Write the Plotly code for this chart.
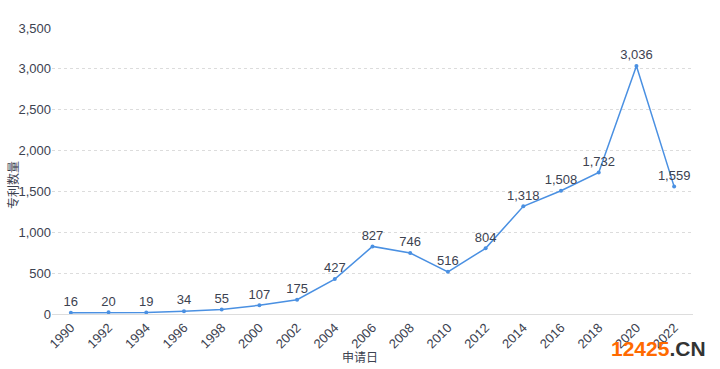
import plotly.graph_objects as go

years = ["1990", "1992", "1994", "1996", "1998", "2000", "2002", "2004", "2006",
         "2008", "2010", "2012", "2014", "2016", "2018", "2020", "2022"]
counts = [16, 20, 19, 34, 55, 107, 175, 427, 827, 746, 516, 804, 1318, 1508, 1732, 3036, 1559]
y_ticks = [0, 500, 1000, 1500, 2000, 2500, 3000, 3500]

W, H = 720, 369
L, R, T, B = 52, 27, 28, 55
PW, PH = W - L - R, H - T - B
TXT = "#3c4250"

fig = go.Figure(go.Scatter(
    x=years, y=counts, mode="lines+markers+text",
    line=dict(color="#4A90E2", width=1.5),
    marker=dict(size=4, color="#4A90E2"),
    text=[f"{v:,}" for v in counts], textposition="top center",
    textfont=dict(size=13, color=TXT, family="Liberation Sans, Arial"),
    cliponaxis=False, hoverinfo="skip",
))

fig.update_layout(
    width=W, height=H, margin=dict(l=L, r=R, t=T, b=B, autoexpand=False),
    paper_bgcolor="white", plot_bgcolor="white", showlegend=False,
    font=dict(family="Liberation Sans, Noto Sans CJK SC, Arial", color=TXT, size=13),
)
fig.update_xaxes(
    type="category", range=[-0.5, len(years) - 0.5], tickangle=-45,
    showgrid=False, showline=True, linecolor="#dddddd", linewidth=1,
    ticks="", automargin=False, tickfont=dict(size=13, color=TXT),
)
fig.update_yaxes(
    range=[0, 3500], tickvals=y_ticks, tickformat=",", showline=False,
    gridcolor="#dcdcdc", griddash="dot", gridwidth=1, zeroline=False,
    ticks="", automargin=False, tickfont=dict(size=13, color=TXT),
)
fig.add_annotation(
    xref="paper", yref="paper", x=(360 - L) / PW, y=-(356 - T - PH) / PH,
    xanchor="center", yanchor="middle", showarrow=False,
    text="申请日", font=dict(size=12, color=TXT, family="Noto Sans CJK SC"),
)
fig.add_annotation(
    xref="paper", yref="paper", x=(12 - L) / PW, y=(T + PH - 185) / PH,
    xanchor="center", yanchor="middle", showarrow=False, textangle=-90,
    text="专利数量", font=dict(size=12, color=TXT, family="Noto Sans CJK SC"),
)
fig.add_annotation(
    xref="paper", yref="paper", x=(708 - L) / PW, y=-(348 - T - PH) / PH,
    xanchor="right", yanchor="middle", showarrow=False,
    text="<b><span style='color:#FF6A00'>12425</span><span style='color:#333333'>.CN</span></b>",
    font=dict(size=21, family="Liberation Sans, Arial"),
)
fig.write_html("out.html", config={"displayModeBar": False},
               post_script="document.body.style.margin='0';document.body.style.overflow='hidden';")
